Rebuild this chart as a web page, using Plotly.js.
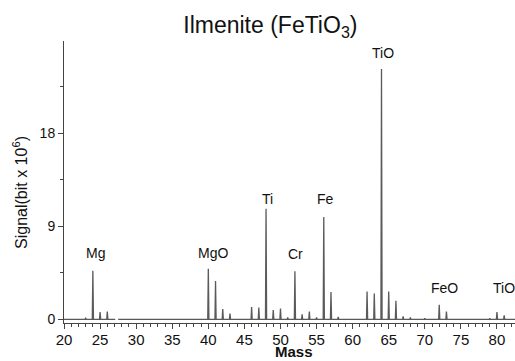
<!DOCTYPE html>
<html>
<head>
<meta charset="utf-8">
<script src="https://cdn.plot.ly/plotly-3.0.1.min.js"></script>
<style>
html,body{margin:0;padding:0;background:#fff;}
#chart{width:515px;height:361px;}
</style>
</head>
<body>
<div id="chart"></div>
<script>
// Peak masses (amu) and heights (signal, bit x 10^6)
const peakMass   = [23, 24, 25, 26, 40, 41, 42, 43, 46, 47, 48, 49, 50, 51, 52, 53, 54, 55, 56, 57, 58, 62, 63, 64, 65, 66, 67, 68, 70, 72, 73, 79, 80, 81];
const peakHeight = [0.15, 4.7, 0.7, 0.75, 4.9, 3.7, 1.0, 0.55, 1.2, 1.15, 10.7, 0.9, 1.05, 0.2, 4.65, 0.5, 0.75, 0.2, 9.9, 2.65, 0.25, 2.7, 2.5, 24.2, 2.7, 1.8, 0.3, 0.2, 0.1, 1.4, 0.75, 0.1, 0.7, 0.4];
// Recorded mass segments (gap in the acquisition near 27)
const segStart = [20, 27.5];
const segEnd   = [27.1, 82.6];
// Peak labels
const labelText = ['Mg', 'MgO', 'Ti', 'Cr', 'Fe', 'TiO', 'FeO', 'TiO'];
const labelMass = [24.4, 40.7, 48.2, 52.1, 56.2, 64.25, 72.7, 81.0];
const labelSig  = [6.4, 6.4, 11.6, 6.35, 11.6, 25.7, 3.0, 3.0];
// Y tick values
const yTicks = [0, 9, 18];

// Build spectrum line
const xs = [], ys = [];
const hw = 0.08;
segStart.forEach((s, k) => {
  const e = segEnd[k];
  xs.push(s); ys.push(0);
  peakMass.forEach((m, i) => {
    if (m > s && m < e) {
      xs.push(m - hw, m, m + hw);
      ys.push(0, peakHeight[i], 0);
    }
  });
  xs.push(e); ys.push(0);
  if (k < segStart.length - 1) { xs.push(null); ys.push(null); }
});

const trace = {
  x: xs, y: ys, type: 'scatter', mode: 'lines',
  line: {color: '#5a5a5a', width: 1.3},
  hoverinfo: 'skip'
};

const FONT = 'Liberation Sans, Arial, sans-serif';
const annotations = labelText.map((t, i) => ({
  x: labelMass[i], y: labelSig[i], xref: 'x', yref: 'y',
  text: t, showarrow: false,
  font: {family: FONT, size: 14, color: '#111'}
}));
// Axis titles
annotations.push({
  xref: 'paper', yref: 'paper', x: 0.51, y: -0.1,
  xanchor: 'center', yanchor: 'middle', showarrow: false,
  text: '<b>Mass</b>', font: {family: FONT, size: 15, color: '#111'}
});
annotations.push({
  xref: 'paper', yref: 'paper', x: -0.0976, y: 0.4645,
  xanchor: 'center', yanchor: 'middle', showarrow: false, textangle: -90,
  text: 'Signal(bit x 10<sup>6</sup>)', font: {family: FONT, size: 16, color: '#111'}
});

const layout = {
  width: 515, height: 361,
  margin: {l: 64, r: 0, t: 41, b: 38},
  paper_bgcolor: '#fff', plot_bgcolor: '#fff',
  showlegend: false,
  font: {family: FONT, color: '#111'},
  title: {
    text: 'Ilmenite (FeTiO<sub>3</sub>)',
    font: {size: 23, color: '#111'},
    xref: 'container', yref: 'container',
    x: 0.525, xanchor: 'center', y: 0.93, yanchor: 'middle'
  },
  xaxis: {
    range: [20, 82.5],
    tickmode: 'linear', tick0: 20, dtick: 5,
    ticks: 'outside', ticklen: 5, tickwidth: 1, tickcolor: '#444',
    minor: {dtick: 1, ticks: 'outside', ticklen: 3, tickcolor: '#444'},
    showline: true, linecolor: '#444', linewidth: 1,
    showgrid: false, zeroline: false,
    tickfont: {size: 15, color: '#111'},
    ticklabelstandoff: -2
  },
  yaxis: {
    range: [-0.35, 26.9],
    tickmode: 'array', tickvals: yTicks, ticktext: yTicks.map(String),
    ticks: 'outside', ticklen: 5, tickwidth: 1, tickcolor: '#444',
    minor: {tickmode: 'linear', tick0: 0, dtick: 4.5, ticks: 'outside', ticklen: 3, tickcolor: '#444'},
    showline: true, linecolor: '#444', linewidth: 1,
    showgrid: false, zeroline: false,
    tickfont: {size: 14, color: '#111'}
  },
  annotations: annotations
};

Plotly.newPlot('chart', [trace], layout, {displayModeBar: false, staticPlot: true});
</script>
</body>
</html>
